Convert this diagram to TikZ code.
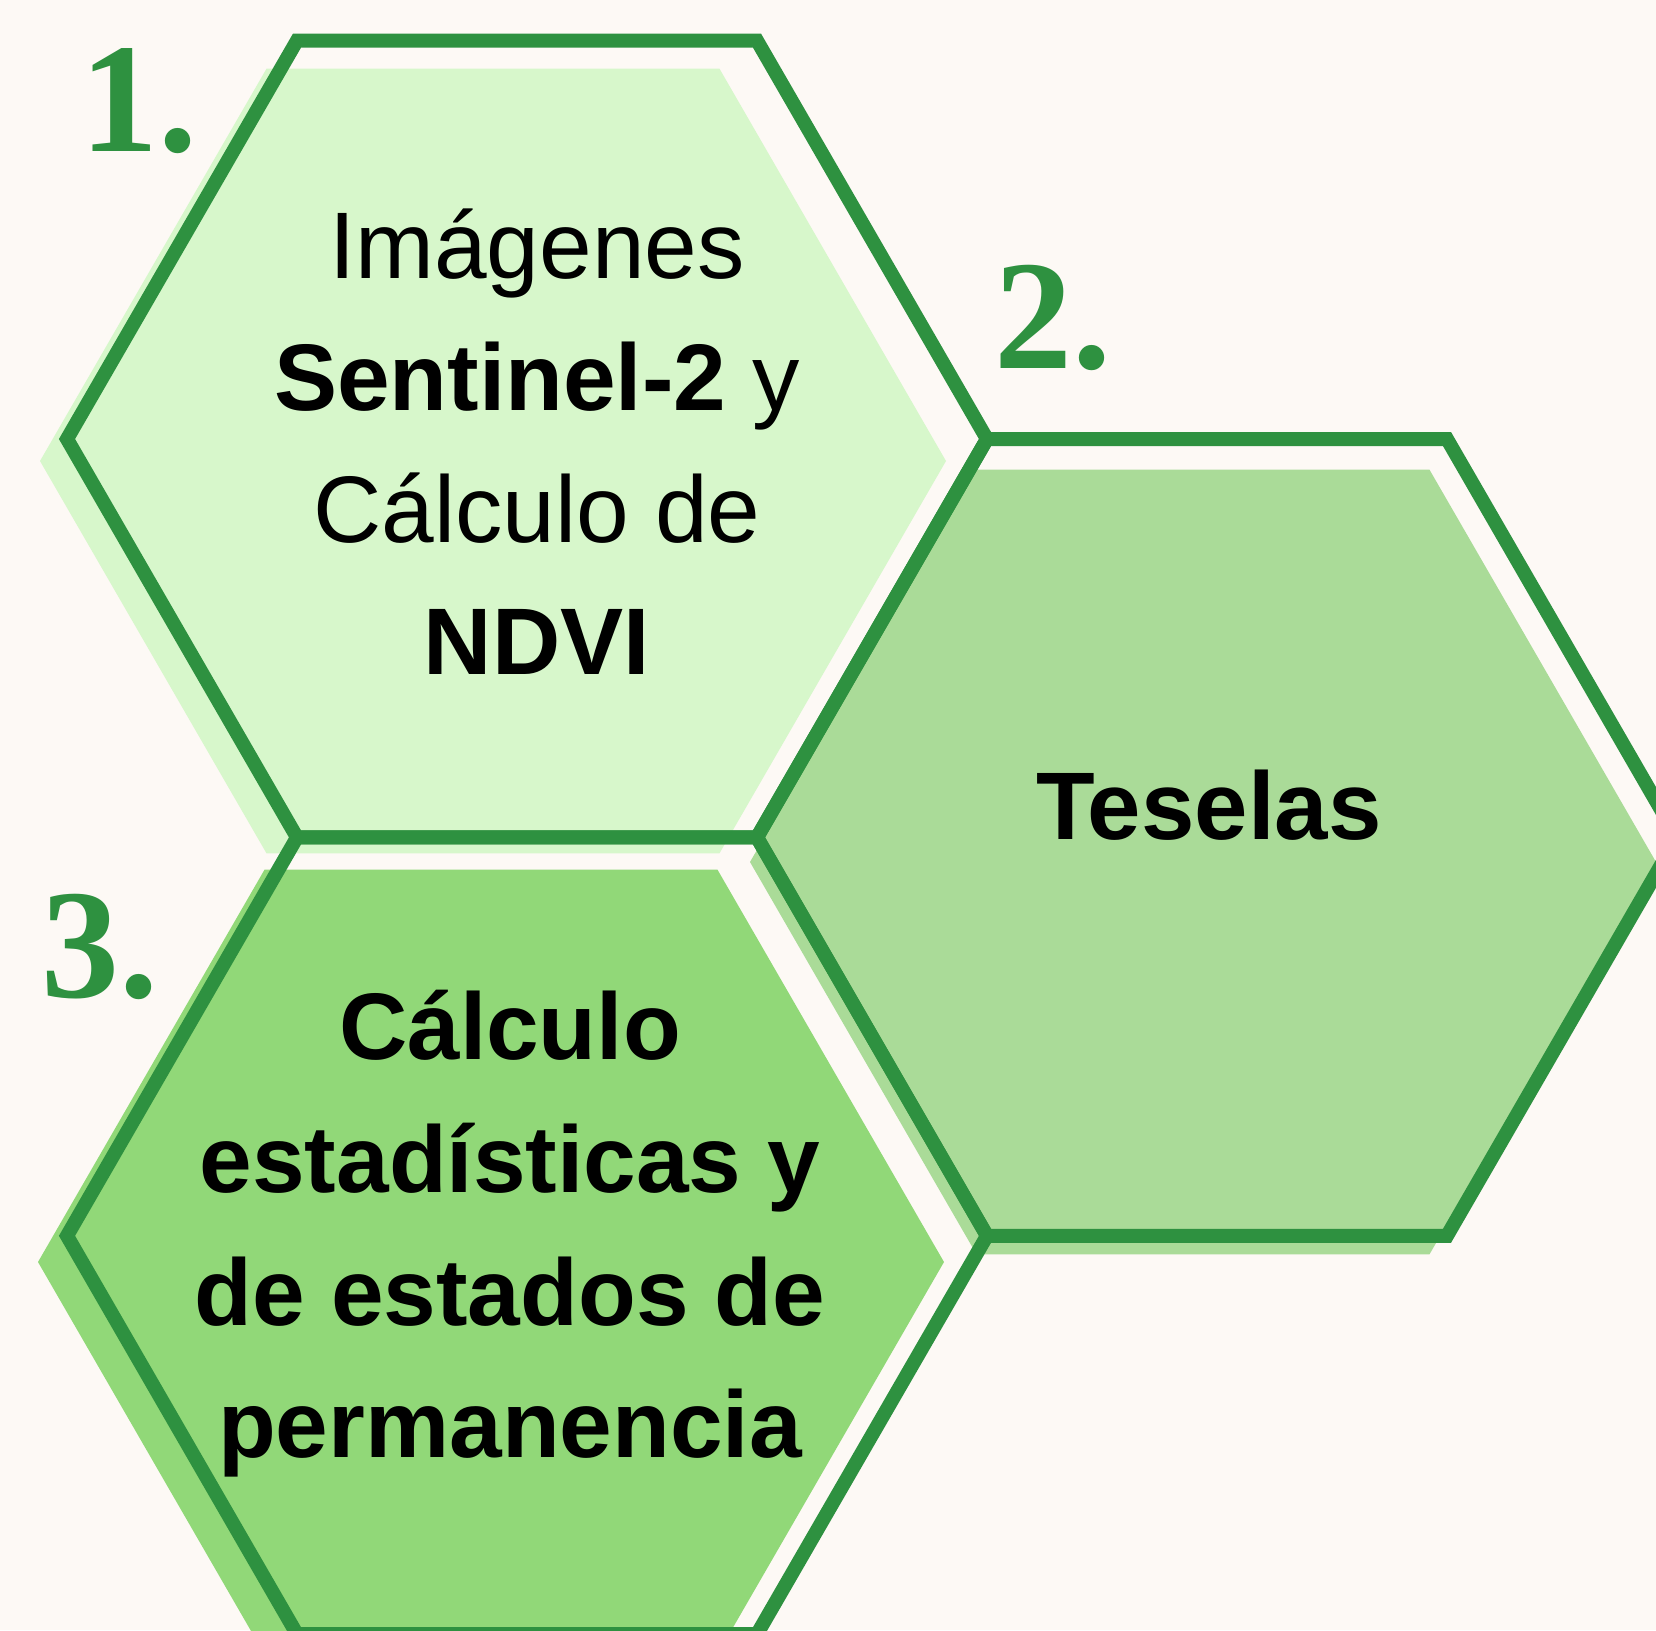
\documentclass[tikz,border=0pt]{standalone}
\usepackage{fontspec}
\setmainfont{Liberation Sans}
\newfontfamily\numfont{Liberation Serif}
\usetikzlibrary{shapes.geometric, positioning}
\definecolor{colorBack}{HTML}{FDF9F5}
\definecolor{colorEdge}{HTML}{2E9140}
\definecolor{colorImg}{HTML}{D7F7CB}
\definecolor{colorTile}{HTML}{AADB98}
\definecolor{colorStat}{HTML}{91D878}
\tikzset{
  hexfill/.style={regular polygon, regular polygon sides=6, minimum size=453pt, inner sep=0pt, draw=none, fill=#1},
  hexline/.style={regular polygon, regular polygon sides=6, minimum size=460pt, inner sep=0pt, draw=colorEdge, line width=7pt},
  hextext/.style={align=center, font=\fontsize{47.3}{66}\selectfont},
  hextextbold/.style={align=center, font=\fontsize{47.3}{66.3}\selectfont\bfseries},
  stepnum/.style={text=colorEdge, anchor=base, font=\numfont\bfseries\fontsize{78}{78}\selectfont},
}

\begin{document}
\begin{tikzpicture}[x=0.5pt, y=-0.5pt, on grid]
\useasboundingbox (0,0) rectangle (1656,1630);
\clip (0,0) rectangle (1656,1630);
\fill[colorBack] (0,0) rectangle (1656,1630);
% fondos desplazados
\node[hexfill=colorImg] (fillA) at (493,461) {};
\node[hexfill=colorTile] (fillB) at (1203,862) {};
\node[hexfill=colorStat] (fillC) at (491,1262) {};
% contornos del panal
\node[hexline] (hexA) at (527,439) {};
\node[hexline, below right=199.2pt and 345pt of hexA] (hexB) {};
\node[hexline, below=398.4pt of hexA] (hexC) {};
% textos
\node[hextext] (txtA) at (537,442) {Imágenes\\\textbf{Sentinel-2} y\\Cálculo de\\\textbf{NDVI}};
\node[hextextbold, font=\fontsize{48}{60}\selectfont\bfseries] (txtB) at (1209,805) {Teselas};
\node[hextextbold] (txtC) at (510,1234) {Cálculo\\estadísticas y\\de estados de\\permanencia};
% numeros de paso
\node[stepnum] (numA) at (139,151) {1.};
\node[stepnum] (numB) at (1053,368) {2.};
\node[stepnum] (numC) at (100,997) {3.};
\end{tikzpicture}
\end{document}
